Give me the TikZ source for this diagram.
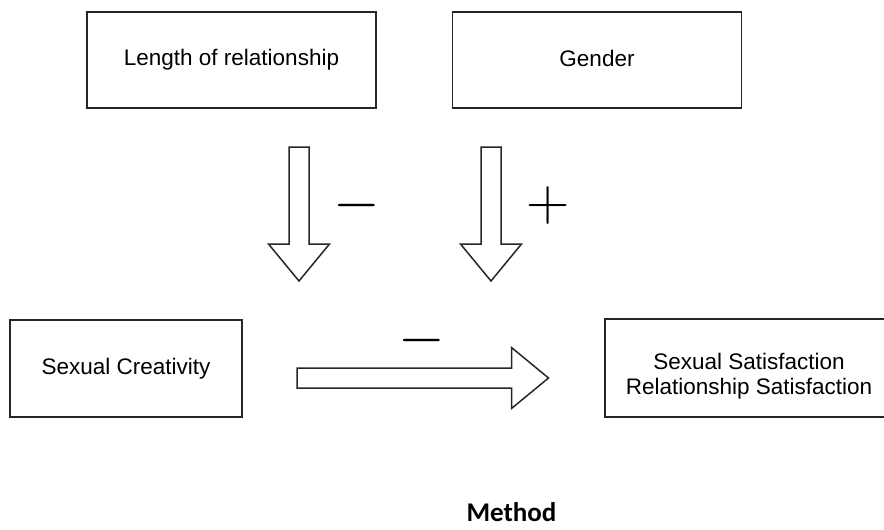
\RequirePackage{fix-cm}
\documentclass[tikz,border=0pt]{standalone}
\usepackage{fontspec}
\setmainfont{Liberation Sans}
\newfontfamily\methodfont{Carlito}
\usetikzlibrary{calc}

\begin{document}
\begin{tikzpicture}[x=1pt, y=-1pt,
  box/.style={draw=black!85, line width=1.5pt, rectangle, align=center,
    font=\fontsize{22.5}{25.5}\selectfont},
  sign/.style={inner sep=0pt, font=\fontsize{60}{60}\selectfont},
  hollow/.style={draw=black!85, line width=1.5pt, to path={
    let \p1=($(\tikztotarget)-(\tikztostart)$), \n1={atan2(\y1,\x1)} in
    ($(\tikztostart)+(\n1+90:10pt)$)
    -- ($(\tikztotarget)+(\n1+180:37pt)+(\n1+90:10pt)$)
    -- ($(\tikztotarget)+(\n1+180:37pt)+(\n1+90:30.5pt)$)
    -- (\tikztotarget)
    -- ($(\tikztotarget)+(\n1+180:37pt)+(\n1-90:30.5pt)$)
    -- ($(\tikztotarget)+(\n1+180:37pt)+(\n1-90:10pt)$)
    -- ($(\tikztostart)+(\n1-90:10pt)$) -- cycle}}]
  \useasboundingbox (0,0) rectangle (884,530);
  \clip (0,0) rectangle (884,530);

  \node[box, minimum width=289, minimum height=96, text depth=6pt] (length) at (231.5,60) {Length of relationship};
  \node[box, minimum width=289, minimum height=96, text depth=2.5pt] (gender) at (597,60) {Gender};
  \node[box, minimum width=232, minimum height=97] (creat) at (126,368.5) {Sexual Creativity};
  \node[box, minimum width=288, minimum height=98, text height=58pt] (satis) at (749,368) {Sexual Satisfaction\\Relationship Satisfaction};

  \coordinate (a1s) at (299,147);
  \coordinate (a1e) at (299,281);
  \coordinate (a2s) at (491,147);
  \coordinate (a2e) at (491,281);
  \coordinate (a3s) at (297,378);
  \coordinate (a3e) at (548.5,378);
  \draw[hollow] (a1s) to (a1e);
  \draw[hollow] (a2s) to (a2e);
  \draw[hollow] (a3s) to (a3e);

  \node[sign] (neg1) at (356.5,205) {$-$};
  \node[sign] (pos) at (548.5,205) {$+$};
  \node[sign] (neg2) at (422,340) {$-$};

  \node[anchor=base, inner sep=0pt, font=\methodfont\bfseries\fontsize{27}{30}\selectfont] (method) at (511.5,521) {Method};
\end{tikzpicture}
\end{document}
